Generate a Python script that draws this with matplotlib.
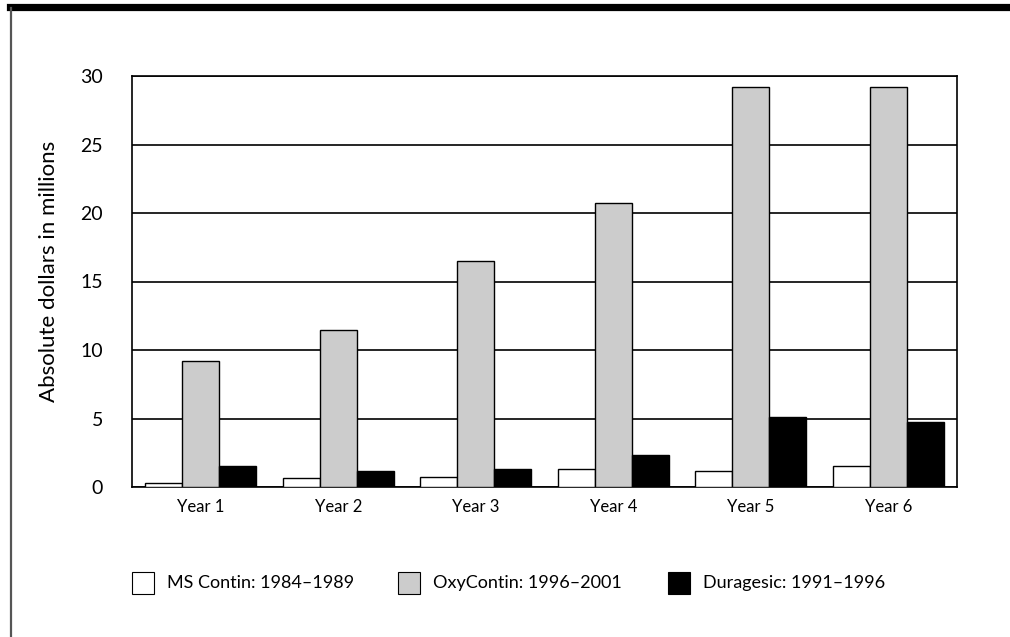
import numpy as np
import matplotlib
matplotlib.use('Agg')
import matplotlib.pyplot as plt
from matplotlib.patches import Rectangle
from matplotlib.lines import Line2D

plt.rcParams['font.family'] = ['Lato', 'DejaVu Sans']

# 数据
years = ['Year 1', 'Year 2', 'Year 3', 'Year 4', 'Year 5', 'Year 6']
ms_contin = [0.3, 0.65, 0.7, 1.3, 1.2, 1.5]
oxycontin = [9.2, 11.45, 16.5, 20.7, 29.2, 29.2]
duragesic = [1.5, 1.2, 1.3, 2.3, 5.1, 4.75]
series_names = ['MS Contin: 1984\u20131989', 'OxyContin: 1996\u20132001', 'Duragesic: 1991\u20131996']
y_ticks = [0, 5, 10, 15, 20, 25, 30]

W, H = 1010, 637
fig = plt.figure(figsize=(W / 100, H / 100), dpi=100)
ax = fig.add_axes([132 / W, 1 - 487 / H, 825 / W, 411 / H])

x = np.arange(len(years))
w = 0.27
colors = ['white', '#cccccc', 'black']
for i, vals in enumerate([ms_contin, oxycontin, duragesic]):
    ax.bar(x + (i - 1) * w, vals, width=w, color=colors[i], edgecolor='black',
           linewidth=1.0, zorder=3, label=series_names[i])

ax.set_xlim(-0.5, len(years) - 0.5)
ax.set_ylim(0, 30)
ax.set_yticks(y_ticks)
ax.set_xticks(x)
ax.set_xticklabels(years, fontsize=12)
ax.tick_params(axis='y', length=0, pad=21, labelsize=14)
ax.tick_params(axis='x', length=0, pad=9)
ax.yaxis.grid(True, color='black', linewidth=1.2, zorder=0)
ax.set_axisbelow(True)
for s in ax.spines.values():
    s.set_linewidth(1.2)
ax.set_ylabel('Absolute dollars in millions', fontsize=16)
ax.yaxis.set_label_coords(-0.088, 0.525)

# 图例（手动放置）
leg_patch_x = [132, 398, 668]
leg_text_x = [167, 433, 703]
for c, px, tx, name in zip(colors, leg_patch_x, leg_text_x, series_names):
    fig.add_artist(Rectangle((px / W, 1 - 594 / H), 22 / W, 22 / H, facecolor=c,
                             edgecolor='black', linewidth=0.8, transform=fig.transFigure))
    fig.text(tx / W, 1 - 583 / H, name, fontsize=13, va='center', ha='left')

# 边框
fig.add_artist(Line2D([10 / W, 1], [1 - 6.5 / H] * 2, color='black', linewidth=5.2,
                      transform=fig.transFigure))
fig.add_artist(Line2D([11 / W] * 2, [0, 1 - 8 / H], color='#555555', linewidth=1.6,
                      transform=fig.transFigure))

fig.savefig('out.png', dpi=100)
